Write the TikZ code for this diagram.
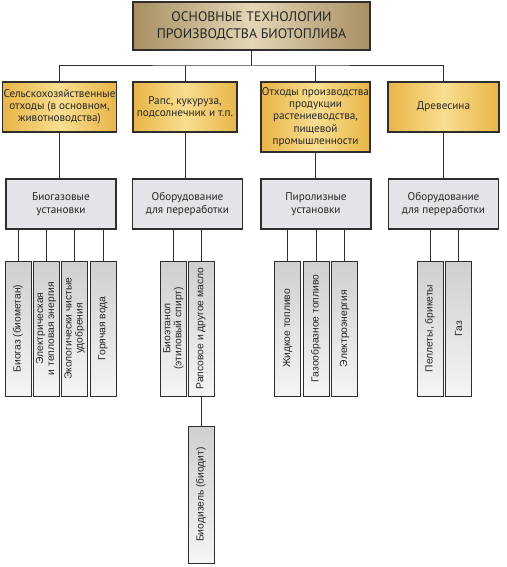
\documentclass[tikz,border=0pt]{standalone}
\usepackage{fontspec}
\setmainfont{PT Sans}
\newfontfamily\leaffont{Liberation Sans}
\usepackage{xcolor}
\usepackage{tikz}
\usetikzlibrary{positioning}

\definecolor{headdark}{HTML}{A88F62}
\definecolor{headlight}{HTML}{E3D6B6}
\definecolor{golddark}{HTML}{E8B547}
\definecolor{goldlight}{HTML}{F8DE90}
\definecolor{techgray}{HTML}{E4E4E8}
\definecolor{leafgray}{HTML}{CFCFD2}
\definecolor{linegray}{HTML}{2E2E2E}

\begin{document}
\begin{tikzpicture}[x=1pt, y=1pt,
        head/.style={rectangle, draw=linegray, line width=1.2pt, minimum width=237pt, minimum height=48pt, align=center, left color=headdark, right color=headdark, middle color=headlight, text=black!85, font=\fontsize{13.8}{16.5}\selectfont},
        source/.style={rectangle, draw=linegray, line width=1.1pt, minimum height=50pt, inner sep=1pt, align=center, left color=golddark, right color=golddark, middle color=goldlight, text=black!85, font=\fontsize{11.2}{12.2}\selectfont},
        tech/.style={rectangle, draw=linegray, line width=1.1pt, minimum width=110pt, minimum height=50pt, align=center, fill=techgray, text=black!85, font=\fontsize{11.2}{12.6}\selectfont},
        prod/.style={rectangle, draw=linegray, line width=1pt, rotate=90, minimum width=135pt, minimum height=26pt, inner sep=0.5pt, align=center, top color=leafgray, bottom color=white!96!black, text=black!85, font=\leaffont\fontsize{10.3}{11}\selectfont},
        link/.style={line width=1pt, draw=linegray}
    ]
        \useasboundingbox (0,0) rectangle (506,-567);

        \node[head] (title) at (251.5,-26) {ОСНОВНЫЕ ТЕХНОЛОГИИ\\ПРОИЗВОДСТВА БИОТОПЛИВА};

        \node[source, minimum width=113pt] (src1) at (59.5,-107) {Сельскохозяйственные\\отходы (в основном,\\животноводства)};
        \node[source, minimum width=104pt] (src2) at (185,-107) {Рапс, кукуруза,\\подсолнечник и т.п.};
        \node[source, minimum width=109pt, minimum height=70pt] (src3) at (315.5,-117) {Отходы производства\\продукции\\растениеводства,\\пищевой\\промышленности};
        \node[source, minimum width=111pt] (src4) at (443.5,-107) {Древесина};

        \coordinate (bus) at (251.5,-66);
        \draw[link] (title.south) -- (bus);
        \draw[link] (src1.north) |- (bus) -| (src4.north);
        \draw[link] (src2.north) -- (src2.north |- bus);
        \draw[link] (src3.north) -- (src3.north |- bus);

        \node[tech] (tech1) at (61,-204) {Биогазовые\\установки};
        \node[tech] (tech2) at (187.5,-204) {Оборудование\\для переработки};
        \node[tech] (tech3) at (316,-204) {Пиролизные\\установки};
        \node[tech] (tech4) at (443.5,-204) {Оборудование\\для переработки};

        \draw[link] (src1.south) -- (src1.south |- tech1.north);
        \draw[link] (src2.south) -- (src2.south |- tech2.north);
        \draw[link] (src3.south) -- (src3.south |- tech3.north);
        \draw[link] (src4.south) -- (src4.south |- tech4.north);

        \node[prod] (gas1) at (18,-328.5) {Биогаз (биометан)};
        \node[prod] (gas2) at (46,-328.5) {Электрическая\\и тепловая энергия};
        \node[prod] (gas3) at (74.5,-328.5) {Экологически чистые\\удобрения};
        \node[prod] (gas4) at (103,-328.5) {Горячая вода};

        \node[prod] (oil1) at (173.5,-328.5) {Биоэтанол\\(этиловый спирт)};
        \node[prod] (oil2) at (201,-328.5) {Рапсовое и другое масло};
        \node[prod, minimum width=137pt] (oil3) at (201,-494.5) {Биодизель (биодит)};

        \node[prod] (pyr1) at (287.5,-328.5) {Жидкое топливо};
        \node[prod] (pyr2) at (316,-328.5) {Газообразное топливо};
        \node[prod] (pyr3) at (344.5,-328.5) {Электроэнергия};

        \node[prod] (wood1) at (430,-328.5) {Пеллеты, брикеты};
        \node[prod] (wood2) at (458.5,-328.5) {Газ};

        \foreach \leaf/\base in {gas1/tech1, gas2/tech1, gas3/tech1, gas4/tech1, oil1/tech2, oil2/tech2, pyr1/tech3, pyr2/tech3, pyr3/tech3, wood1/tech4, wood2/tech4}
            \draw[link] (\leaf.east |- \base.south) -- (\leaf.east);
        \draw[link] (oil2.west) -- (oil3.east);
    \end{tikzpicture}
\end{document}
